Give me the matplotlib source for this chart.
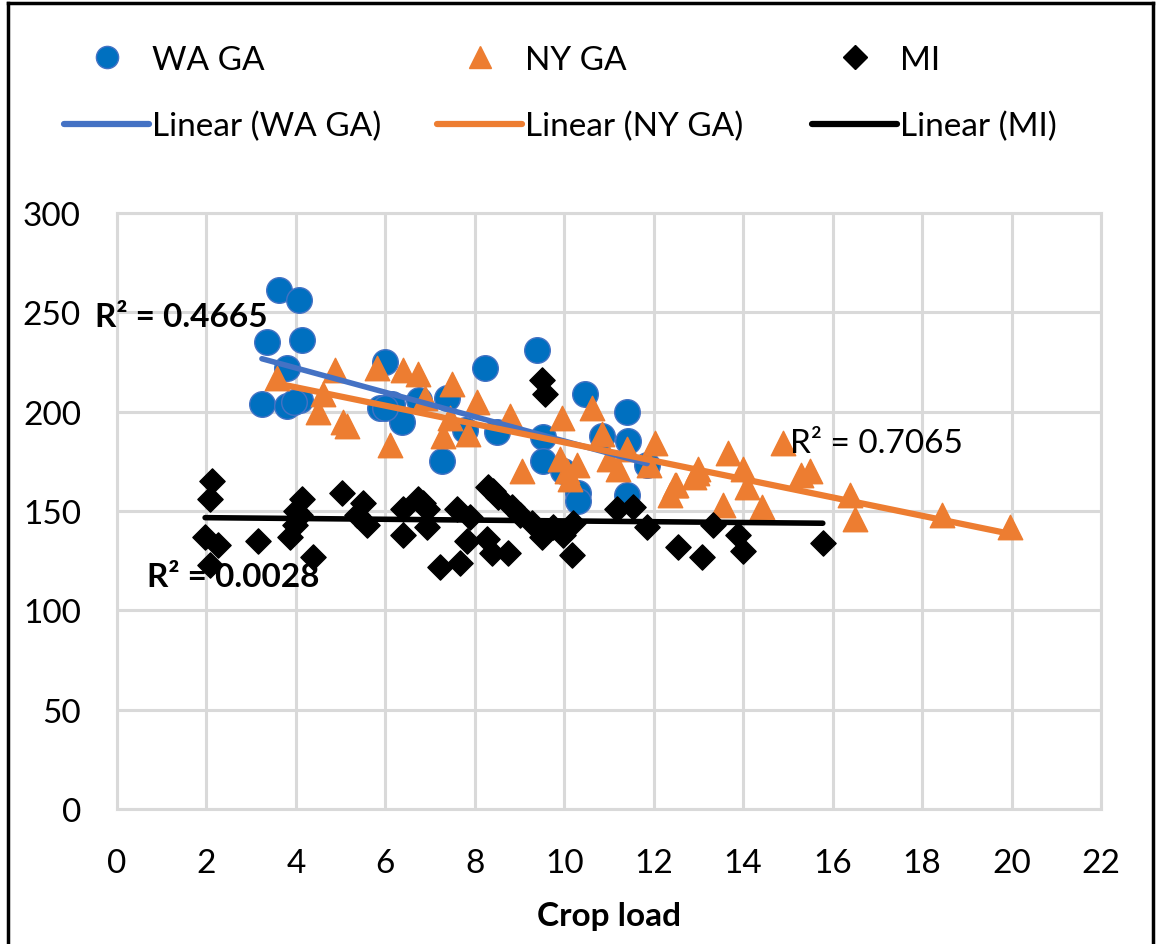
import numpy as np
import matplotlib
matplotlib.use("Agg")
import matplotlib.pyplot as plt
from matplotlib.lines import Line2D

plt.rcParams['font.family'] = ['Lato', 'DejaVu Sans']

# ---- data ----
wa_x = [3.62, 4.07, 3.35, 4.14, 3.80, 3.24, 3.80, 4.10, 3.95, 5.99, 5.88, 6.15, 6.37, 6.75,
        7.38, 7.27, 8.23, 7.78, 8.50, 9.39, 10.46, 11.40, 9.52, 9.52, 10.84, 11.42, 10.30,
        10.30, 11.40, 11.85, 9.97, 6.00]
wa_y = [261, 256, 235, 236, 222, 204, 203, 206, 205, 225, 202, 204, 195, 206,
        207, 175, 222, 191, 190, 231, 209, 200, 187, 175, 188, 185, 159,
        155, 158, 173, 170, 202]

ny_x = [3.58, 4.87, 5.81, 6.39, 6.73, 7.49, 8.05, 4.60, 4.50, 5.05, 5.14, 6.10, 7.29, 7.44,
        7.85, 6.89, 8.79, 9.95, 10.62, 10.84, 9.05, 9.90, 10.06, 10.28, 10.13, 11.00, 11.40,
        11.20, 12.03, 11.90, 12.47, 12.36, 12.97, 13.66, 13.00, 12.50, 12.90, 14.00, 14.08,
        14.42, 13.55, 14.89, 15.30, 15.50, 16.39, 16.50, 18.44, 19.96]
ny_y = [217, 221, 222, 221, 219, 214, 205, 209, 200, 195, 193, 183, 188, 197,
        189, 207, 198, 197, 202, 189, 170, 176, 170, 173, 166, 176, 181,
        171, 184, 173, 163, 158, 169, 179, 171, 163, 167, 171, 162,
        152, 153, 184, 168, 170, 158, 146, 148, 142]

mi_x = [2.12, 2.08, 1.97, 2.26, 2.08, 3.15, 4.14, 4.09, 3.87, 3.98, 4.38, 5.03, 5.50, 5.37,
        5.59, 6.39, 6.39, 6.73, 6.93, 6.84, 6.93, 7.22, 7.67, 7.60, 7.89, 7.82, 8.27, 8.38,
        8.74, 8.30, 8.52, 8.83, 9.00, 9.27, 9.50, 9.75, 9.97, 10.20, 10.17, 11.18, 11.54,
        11.85, 12.54, 13.08, 13.32, 13.88, 14.00, 15.78, 9.50, 9.57, 4.00, 8.40]
mi_y = [165, 156, 137, 133, 123, 135, 156, 148, 137, 143, 127, 159, 154, 148,
        143, 151, 138, 156, 151, 154, 142, 122, 124, 151, 147, 135, 136, 129,
        129, 162, 157, 152, 148, 144, 137, 142, 138, 144, 128, 151, 152,
        142, 132, 127, 143, 138, 130, 134, 216, 209, 150, 160]

x_ticks = list(range(0, 23, 2))
y_ticks = list(range(0, 301, 50))
r2_labels = ["R² = 0.4665", "R² = 0.7065", "R² = 0.0028"]
series_names = ['WA GA', 'NY GA', 'MI']

BLUE = '#0070C0'
BLUE_LINE = '#4472C4'
ORANGE = '#ED7D31'
BLACK = '#000000'
GRID = '#D9D9D9'
FS = 24

fig = plt.figure(figsize=(11.57, 9.45), dpi=100)
ax = fig.add_axes([117/1157, 1-810/945, (1101-117)/1157, (810-214)/945])

ax.set_xlim(0, 22)
ax.set_ylim(0, 300)
ax.set_xticks(x_ticks)
ax.set_yticks(y_ticks)
ax.grid(True, color=GRID, lw=2.2, zorder=0)
ax.set_axisbelow(True)
for s in ax.spines.values():
    s.set_color(GRID)
    s.set_linewidth(2.2)
ax.tick_params(length=0, labelsize=FS)
ax.tick_params(axis='x', pad=28)
ax.tick_params(axis='y', pad=26)

def trend(xs, ys):
    xs = np.asarray(xs, float); ys = np.asarray(ys, float)
    m, b = np.polyfit(xs, ys, 1)
    xx = np.array([xs.min(), xs.max()])
    return xx, m*xx + b

ax.scatter(wa_x, wa_y, s=340, marker='o', color=BLUE, edgecolor=BLUE_LINE, lw=1, zorder=3)
ax.scatter(ny_x, ny_y, s=310, marker='^', color=ORANGE, edgecolor=ORANGE, lw=1, zorder=4)
ax.scatter(mi_x, mi_y, s=165, marker='D', color=BLACK, edgecolor=BLACK, lw=1, zorder=5)

tx, ty = trend(wa_x, wa_y)
ax.plot(tx, ty, color=BLUE_LINE, lw=4, solid_capstyle='round', zorder=6)
tx, ty = trend(ny_x, ny_y)
ax.plot(tx, ty, color=ORANGE, lw=4.5, solid_capstyle='round', zorder=6)
tx, ty = trend(mi_x, mi_y)
ax.plot(tx, ty, color=BLACK, lw=4, solid_capstyle='round', zorder=6)

ax.text(-0.49, 248, r2_labels[0], fontsize=FS, fontweight='bold', va='center', ha='left', zorder=8)
ax.text(15.05, 184, r2_labels[1], fontsize=FS, va='center', ha='left', zorder=8)
ax.text(0.67, 117, r2_labels[2], fontsize=FS, fontweight='bold', va='center', ha='left', zorder=8)

ax.set_xlabel('Crop load', fontsize=FS, fontweight='bold', labelpad=17)

marker_handles = [
    Line2D([], [], ls='none', marker='o', ms=16, color=BLUE, mec=BLUE_LINE),
    Line2D([], [], ls='none', marker='^', ms=16, color=ORANGE),
    Line2D([], [], ls='none', marker='D', ms=12, color=BLACK),
]
line_handles = [
    Line2D([], [], color=BLUE_LINE, lw=4.5, solid_capstyle='round'),
    Line2D([], [], color=ORANGE, lw=4.5, solid_capstyle='round'),
    Line2D([], [], color=BLACK, lw=4.5, solid_capstyle='round'),
]
col_left = [64, 437, 812]
for i in range(3):
    leg = fig.legend([marker_handles[i], line_handles[i]],
                     [series_names[i], 'Linear (%s)' % series_names[i]],
                     loc='upper left', bbox_to_anchor=(col_left[i]/1157, 1-46/945),
                     frameon=False, fontsize=FS, handlelength=2.55, handletextpad=0.1,
                     labelspacing=1.08, borderaxespad=0, borderpad=0)

# figure frame
fig.add_artist(Line2D([8/1157, 8/1157], [0, 1-4/945], color='black', lw=2.5))
fig.add_artist(Line2D([8/1157, 1153/1157], [1-4/945, 1-4/945], color='black', lw=2.5))
fig.add_artist(Line2D([1153/1157, 1153/1157], [0, 1-4/945], color='black', lw=2.5))

fig.savefig('out.png', dpi=100)
